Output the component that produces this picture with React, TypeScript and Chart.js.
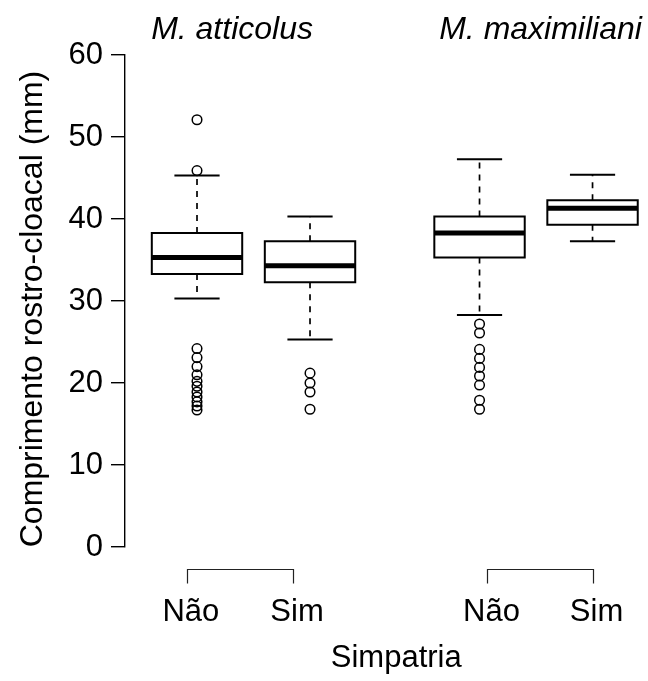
import React, { useEffect, useRef } from 'react';
import { Chart, registerables } from 'chart.js';

Chart.register(...registerables);

// ---- data ----
const groupTitles = ['M. atticolus', 'M. maximiliani'];
const groupTitlePositions = [1.31, 4.04];
const boxPositions = [1, 2, 3.5, 4.5];
const lowerWhiskers = [30.3, 25.3, 28.3, 37.3];
const firstQuartiles = [33.3, 32.3, 35.3, 39.3];
const medians = [35.3, 34.3, 38.3, 41.3];
const thirdQuartiles = [38.3, 37.3, 40.3, 42.3];
const upperWhiskers = [45.3, 40.3, 47.3, 45.4];
const outliersAtticolusNao = [52.1, 45.9, 24.2, 23.1, 22.0, 21.0, 20.2, 19.6, 18.9, 18.3, 17.7, 17.2, 16.7];
const outliersAtticolusSim = [21.2, 20.0, 18.9, 16.8];
const outliersMaximilianiNao = [27.2, 26.1, 24.1, 23.0, 21.9, 20.85, 19.75, 17.9, 16.8];
const outliersMaximilianiSim: number[] = [];
const xTickPositions = [0.91, 1.85, 3.57, 4.5];
const xTickLabels = ['Não', 'Sim', 'Não', 'Sim'];
const yTickValues = [0, 10, 20, 30, 40, 50, 60];
const yTitle = 'Comprimento rostro-cloacal (mm)';
const xTitle = 'Simpatria';

const BOX_HALF = 0.4;
const STAPLE_HALF = 0.2;
const FONT = '"Liberation Sans", Arial, Helvetica, sans-serif';

type Pt = { x: number; y: number | null };

function buildBoxes(): Pt[] {
  const pts: Pt[] = [];
  boxPositions.forEach((x, i) => {
    const l = x - BOX_HALF;
    const r = x + BOX_HALF;
    pts.push({ x: l, y: firstQuartiles[i] }, { x: r, y: firstQuartiles[i] }, { x: r, y: thirdQuartiles[i] },
      { x: l, y: thirdQuartiles[i] }, { x: l, y: firstQuartiles[i] }, { x: r, y: firstQuartiles[i] }, { x, y: null });
  });
  return pts;
}

function buildMedians(): Pt[] {
  const pts: Pt[] = [];
  boxPositions.forEach((x, i) => {
    pts.push({ x: x - BOX_HALF, y: medians[i] }, { x: x + BOX_HALF, y: medians[i] }, { x, y: null });
  });
  return pts;
}

function buildWhiskers(): Pt[] {
  const pts: Pt[] = [];
  boxPositions.forEach((x, i) => {
    pts.push({ x, y: thirdQuartiles[i] }, { x, y: upperWhiskers[i] }, { x, y: null });
    pts.push({ x, y: firstQuartiles[i] }, { x, y: lowerWhiskers[i] }, { x, y: null });
  });
  return pts;
}

function buildStaples(): Pt[] {
  const pts: Pt[] = [];
  boxPositions.forEach((x, i) => {
    pts.push({ x: x - STAPLE_HALF, y: upperWhiskers[i] }, { x: x + STAPLE_HALF, y: upperWhiskers[i] }, { x, y: null });
    pts.push({ x: x - STAPLE_HALF, y: lowerWhiskers[i] }, { x: x + STAPLE_HALF, y: lowerWhiskers[i] }, { x, y: null });
  });
  return pts;
}

function buildOutliers(): Pt[] {
  const groups = [outliersAtticolusNao, outliersAtticolusSim, outliersMaximilianiNao, outliersMaximilianiSim];
  const pts: Pt[] = [];
  groups.forEach((vals, i) => vals.forEach((v) => pts.push({ x: boxPositions[i], y: v })));
  return pts;
}

const decorPlugin = {
  id: 'decor',
  afterDraw(chart: any) {
    const { ctx, chartArea, scales } = chart;
    const xs = scales.x;
    ctx.save();
    ctx.fillStyle = '#000';
    // group titles
    ctx.font = `italic 32px ${FONT}`;
    ctx.textAlign = 'center';
    ctx.textBaseline = 'alphabetic';
    groupTitles.forEach((t, i) => {
      ctx.fillText(t, xs.getPixelForValue(groupTitlePositions[i]), chartArea.top - 16);
    });
    // brackets
    ctx.strokeStyle = '#222';
    ctx.lineWidth = 1.2;
    for (let g = 0; g < 2; g++) {
      const x1 = Math.round(xs.getPixelForValue(xTickPositions[2 * g])) + 0.5;
      const x2 = Math.round(xs.getPixelForValue(xTickPositions[2 * g + 1])) + 0.5;
      const y0 = chartArea.bottom + 22.5;
      ctx.beginPath();
      ctx.moveTo(x1, y0 + 14);
      ctx.lineTo(x1, y0);
      ctx.lineTo(x2, y0);
      ctx.lineTo(x2, y0 + 14);
      ctx.stroke();
    }
    // x title
    ctx.font = `31px ${FONT}`;
    ctx.fillText(xTitle, (xs.getPixelForValue(xTickPositions[1]) + xs.getPixelForValue(xTickPositions[2])) / 2 + 6, chartArea.bottom + 120);
    // y title
    ctx.translate(42, (chartArea.top + chartArea.bottom) / 2 + 8);
    ctx.rotate(-Math.PI / 2);
    ctx.font = `32px ${FONT}`;
    ctx.fillText(yTitle, 0, 0);
    ctx.restore();
  },
};

export default function App() {
  const ref = useRef<HTMLCanvasElement | null>(null);
  useEffect(() => {
    if (!ref.current) return;
    const line = (data: Pt[], width: number, dash: number[] = []) => ({
      type: 'scatter' as const,
      data,
      showLine: true,
      spanGaps: false,
      borderColor: '#000',
      backgroundColor: 'transparent',
      borderWidth: width,
      borderDash: dash,
      borderCapStyle: 'butt',
      borderJoinStyle: 'miter',
      pointRadius: 0,
      pointHoverRadius: 0,
      tension: 0,
    });
    const chart = new Chart(ref.current, {
      type: 'scatter',
      data: {
        datasets: [
          line(buildWhiskers(), 1.7, [6, 6]) as any,
          line(buildStaples(), 2) as any,
          line(buildBoxes(), 2) as any,
          line(buildMedians(), 5) as any,
          {
            type: 'scatter',
            data: buildOutliers(),
            showLine: false,
            pointStyle: 'circle',
            pointRadius: 4.8,
            pointBorderWidth: 1.5,
            pointBorderColor: '#000',
            pointBackgroundColor: 'transparent',
            borderColor: '#000',
            backgroundColor: 'transparent',
          } as any,
        ],
      },
      options: {
        animation: false,
        responsive: false,
        events: [],
        layout: { padding: { left: 0, top: 55, right: 8, bottom: 0 } },
        plugins: { legend: { display: false }, tooltip: { enabled: false }, title: { display: false } },
        scales: {
          x: {
            type: 'linear',
            position: 'bottom',
            min: 0.3628,
            max: 4.92,
            afterFit: (s: any) => { s.height = 134; s.paddingLeft = 0; s.paddingRight = 0; },
            afterBuildTicks: (s: any) => { s.ticks = xTickPositions.map((v) => ({ value: v })); },
            grid: { display: false, drawTicks: false },
            border: { display: false },
            ticks: {
              autoSkip: false,
              maxRotation: 0,
              minRotation: 0,
              padding: 47,
              labelOffset: 4,
              color: '#000',
              font: { family: FONT, size: 31 },
              callback: (_v: any, i: number) => xTickLabels[i],
            },
          },
          y: {
            type: 'linear',
            position: 'left',
            min: 0,
            max: 60,
            afterFit: (s: any) => { s.width = 125; s.paddingTop = 0; s.paddingBottom = 0; },
            afterBuildTicks: (s: any) => { s.ticks = yTickValues.map((v) => ({ value: v })); },
            grid: { drawOnChartArea: false, drawTicks: true, tickLength: 14, color: '#000', lineWidth: 1.4 },
            border: { display: true, color: '#000', width: 1.4 },
            ticks: {
              padding: 8,
              color: '#000',
              font: { family: FONT, size: 31 },
            },
          },
        },
      },
      plugins: [decorPlugin],
    });
    return () => chart.destroy();
  }, []);
  return (
    <div style={{ position: 'fixed', left: 0, top: 0, width: 648, height: 681, background: '#fff' }}>
      <canvas ref={ref} width={648} height={681} style={{ display: 'block' }} />
    </div>
  );
}
